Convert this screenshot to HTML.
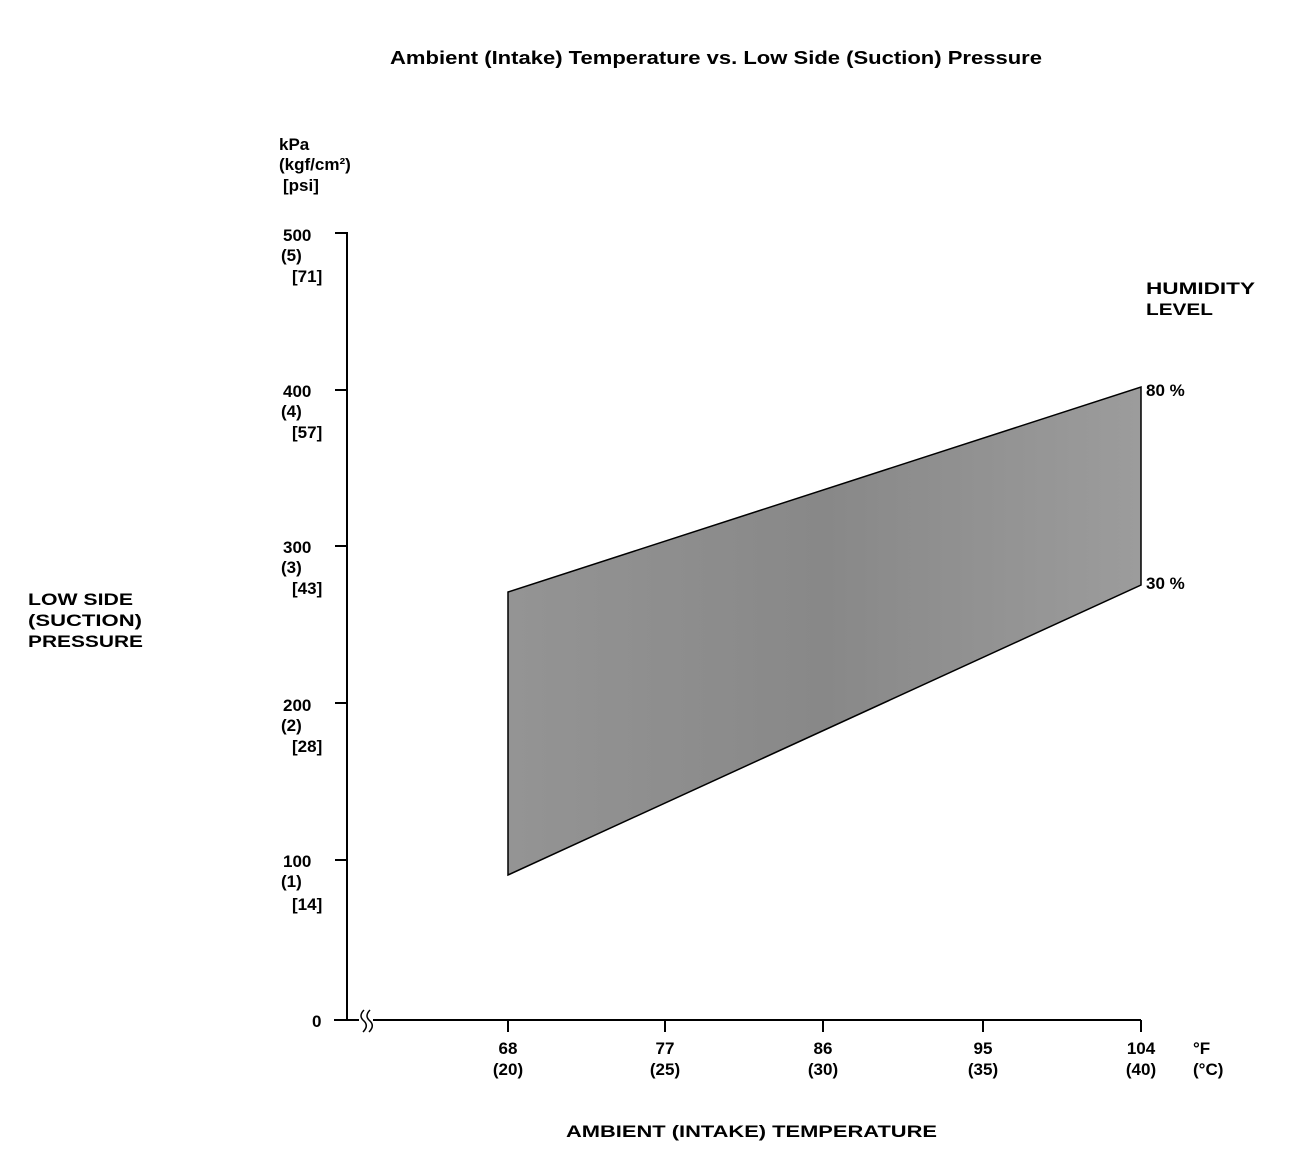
<!DOCTYPE html>
<html><head><style>
body{margin:0;background:#fff}
svg text{font-family:"Liberation Sans",sans-serif;font-weight:bold;fill:#000}
</style></head><body>
<svg width="1312" height="1150" viewBox="0 0 1312 1150" xmlns="http://www.w3.org/2000/svg">
<defs>
<linearGradient id="g" x1="0" y1="0" x2="1" y2="0">
<stop offset="0" stop-color="#949494"/><stop offset="0.5" stop-color="#888"/><stop offset="1" stop-color="#9c9c9c"/>
</linearGradient>
</defs>
<text x="390" y="64" font-size="18" textLength="652" lengthAdjust="spacingAndGlyphs">Ambient (Intake) Temperature vs. Low Side (Suction) Pressure</text>
<g font-size="17">
<text x="279" y="150">kPa</text>
<text x="279" y="170">(kgf/cm²)</text>
<text x="283" y="191">[psi]</text>
<text x="283" y="241">500</text><text x="281" y="261">(5)</text><text x="292" y="282">[71]</text>
<text x="283" y="397">400</text><text x="281" y="417">(4)</text><text x="292" y="438">[57]</text>
<text x="283" y="553">300</text><text x="281" y="573">(3)</text><text x="292" y="594">[43]</text>
<text x="283" y="711">200</text><text x="281" y="731">(2)</text><text x="292" y="752">[28]</text>
<text x="283" y="867">100</text><text x="281" y="887">(1)</text><text x="292" y="910">[14]</text>
<text x="312" y="1027">0</text>
<text x="28" y="605" textLength="105" lengthAdjust="spacingAndGlyphs">LOW SIDE</text><text x="28" y="626" textLength="114" lengthAdjust="spacingAndGlyphs">(SUCTION)</text><text x="28" y="647" textLength="115" lengthAdjust="spacingAndGlyphs">PRESSURE</text>
<text x="1146" y="294" textLength="109" lengthAdjust="spacingAndGlyphs">HUMIDITY</text><text x="1146" y="315" textLength="67" lengthAdjust="spacingAndGlyphs">LEVEL</text>
<text x="1146" y="396">80 %</text>
<text x="1146" y="589">30 %</text>
<text x="508" y="1054" text-anchor="middle">68</text><text x="508" y="1075" text-anchor="middle">(20)</text>
<text x="665" y="1054" text-anchor="middle">77</text><text x="665" y="1075" text-anchor="middle">(25)</text>
<text x="823" y="1054" text-anchor="middle">86</text><text x="823" y="1075" text-anchor="middle">(30)</text>
<text x="983" y="1054" text-anchor="middle">95</text><text x="983" y="1075" text-anchor="middle">(35)</text>
<text x="1141" y="1054" text-anchor="middle">104</text><text x="1141" y="1075" text-anchor="middle">(40)</text>
<text x="1193" y="1054">°F</text><text x="1193" y="1075">(°C)</text>
<text x="566" y="1137" textLength="371" lengthAdjust="spacingAndGlyphs">AMBIENT (INTAKE) TEMPERATURE</text>
</g>
<polygon points="508,592 1141,387 1141,585 508,875" fill="url(#g)" stroke="#000" stroke-width="1.5"/>
<g stroke="#000" stroke-width="2" fill="none">
<line x1="347" y1="232" x2="347" y2="1020"/>
<line x1="335" y1="233" x2="347" y2="233"/>
<line x1="335" y1="390" x2="347" y2="390"/>
<line x1="335" y1="546" x2="347" y2="546"/>
<line x1="335" y1="703" x2="347" y2="703"/>
<line x1="335" y1="860" x2="347" y2="860"/>
<line x1="334" y1="1020" x2="1141" y2="1020"/>
<line x1="508" y1="1020" x2="508" y2="1032"/>
<line x1="665" y1="1020" x2="665" y2="1032"/>
<line x1="823" y1="1020" x2="823" y2="1032"/>
<line x1="983" y1="1020" x2="983" y2="1032"/>
<line x1="1141" y1="1020" x2="1141" y2="1032"/>
</g>
<rect x="359" y="1012" width="14" height="20" fill="#fff"/>
<path d="M364,1010 q-6,6 0,11 q5,5 -1,11 M370,1010 q-6,6 0,11 q5,5 -1,11" stroke="#000" stroke-width="1.5" fill="none"/>
</svg>
</body></html>
